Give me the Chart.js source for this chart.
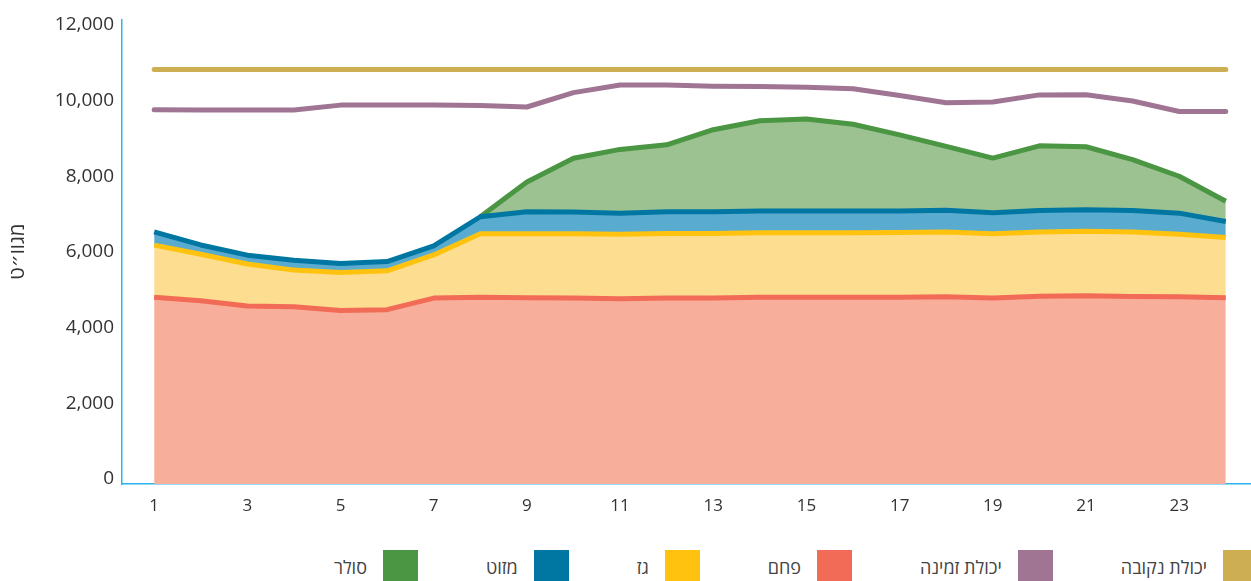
<!DOCTYPE html>
<html lang="he">
<head>
<meta charset="utf-8">
<script src="https://cdn.jsdelivr.net/npm/chart.js@4.4.1/dist/chart.umd.min.js"></script>
<style>
  html, body { margin: 0; padding: 0; background: #fff; }
  #wrap { position: relative; width: 1251px; height: 581px; overflow: hidden; }
  #wrap canvas { position: absolute; left: 0; top: 0; }
  #legend {
    position: absolute; top: 550px; right: -7px;
    display: flex; direction: rtl; align-items: center;
    font-family: "Open Sans", "DejaVu Sans", sans-serif; font-size: 18px; color: #444;
  }
  #legend .item { display: flex; align-items: center; margin-left: 68px; }
  #legend .item:last-child { margin-left: 0; }
  #legend .box { width: 35px; height: 34px; margin-left: 16px; }
</style>
</head>
<body>
<div id="wrap">
  <canvas id="chart" width="1251" height="540"></canvas>
  <div id="legend"></div>
</div>
<script>
// ── DATA ──
const hours = [1, 2, 3, 4, 5, 6, 7, 8, 9, 10, 11, 12, 13, 14, 15, 16, 17, 18, 19, 20, 21, 22, 23, 24];
const xTicks = [1, 3, 5, 7, 9, 11, 13, 15, 17, 19, 21, 23];
const yTicks = [0, 2000, 4000, 6000, 8000, 10000, 12000];

const ratedCapacity = [10820, 10820, 10820, 10820, 10820, 10820, 10820, 10820, 10820, 10820, 10820, 10820,
    10820, 10820, 10820, 10820, 10820, 10820, 10820, 10820, 10820, 10820, 10820, 10820];
const availCapacity = [9760, 9750, 9750, 9750, 9880, 9880, 9880, 9870, 9830, 10210, 10410, 10410,
    10380, 10370, 10355, 10310, 10135, 9945, 9960, 10150, 10155, 9990, 9710, 9710];
const coal = [4800, 4710, 4570, 4550, 4450, 4475, 4780, 4800, 4790, 4780, 4760, 4780,
    4780, 4800, 4800, 4800, 4800, 4815, 4780, 4830, 4840, 4820, 4815, 4790];
const gas = [1380, 1230, 1110, 970, 1010, 1025, 1140, 1680, 1690, 1700, 1705, 1710,
    1710, 1710, 1710, 1710, 1715, 1710, 1700, 1695, 1705, 1705, 1650, 1590];
const mazut = [350, 245, 235, 260, 235, 245, 240, 450, 580, 575, 560, 570,
    575, 570, 570, 570, 570, 575, 555, 570, 570, 570, 560, 425];
const solar = [0, 0, 0, 0, 0, 0, 0, 0, 790, 1420, 1685, 1770,
    2165, 2385, 2435, 2295, 2010, 1690, 1445, 1710, 1665, 1345, 975, 535];

const FONT = '"Open Sans", "DejaVu Sans", sans-serif';
const AXIS_BLUE = '#2BB5EC';

const pts = arr => hours.map((h, i) => ({ x: h, y: arr[i] }));

// ── SERIES ──
const series = [
    { label: 'יכולת נקובה', data: ratedCapacity, line: '#CDAE52', fill: false, stack: 'rated' },
    { label: 'יכולת זמינה', data: availCapacity, line: '#A07594', fill: false, stack: 'avail' },
    { label: 'פחם', data: coal, line: '#F26B56', area: '#F7AE9B', fill: 'start', stack: 'gen' },
    { label: 'גז', data: gas, line: '#FFC30F', area: '#FDDD8F', fill: '-1', stack: 'gen' },
    { label: 'מזוט', data: mazut, line: '#0077A2', area: '#5AABD0', fill: '-1', stack: 'gen' },
    { label: 'סולר', data: solar, line: '#4A9642', area: '#9CC292', fill: '-1', stack: 'gen' }
];

const datasets = series.map(s => ({
    label: s.label,
    data: pts(s.data),
    stack: s.stack,
    borderColor: s.line,
    backgroundColor: s.area || s.line,
    fill: s.fill,
    borderWidth: 5,
    borderCapStyle: s.fill ? 'butt' : 'round',
    borderJoinStyle: 'round',
    pointRadius: 0,
    tension: 0,
    // hide the solar line while it sits at zero under the mazut line
    segment: s.label === 'סולר' ? {
        borderColor: c => (c.p0.parsed.y === 0 && c.p1.parsed.y === 0) ? 'rgba(0,0,0,0)' : s.line
    } : undefined
}));

// ── CHART ──
const ctx = document.getElementById('chart').getContext('2d');
new Chart(ctx, {
    type: 'line',
    data: { datasets },
    options: {
        responsive: false,
        animation: false,
        layout: { padding: { top: 14, right: 1, left: 0, bottom: 0 } },
        plugins: {
            legend: { display: false },
            tooltip: { enabled: false }
        },
        scales: {
            x: {
                type: 'linear',
                min: 0.31,
                max: 24.52,
                grid: { display: false, drawTicks: false },
                border: { color: AXIS_BLUE, width: 1.5 },
                afterBuildTicks: axis => { axis.ticks = xTicks.map(v => ({ value: v })); },
                afterFit: axis => { axis.height = 56; },
                ticks: {
                    color: '#333',
                    font: { family: FONT, size: 17 },
                    padding: 12,
                    maxRotation: 0,
                    autoSkip: false
                }
            },
            y: {
                stacked: true,
                min: -132,
                max: 12145,
                grid: { display: false, drawTicks: false },
                border: { color: AXIS_BLUE, width: 1.5 },
                afterBuildTicks: axis => { axis.ticks = yTicks.map(v => ({ value: v })); },
                afterFit: axis => { axis.width = 122; },
                title: {
                    display: true,
                    text: 'מגוו״ט',
                    color: '#333',
                    font: { family: FONT, size: 20 },
                    padding: { top: 6, bottom: 0 }
                },
                ticks: {
                    color: '#333',
                    font: { family: FONT, size: 19 },
                    padding: 8,
                    callback: v => v.toLocaleString('en-US')
                }
            }
        }
    }
});

// ── LEGEND ──
const legendEl = document.getElementById('legend');
series.forEach(s => {
    const item = document.createElement('div');
    item.className = 'item';
    const box = document.createElement('span');
    box.className = 'box';
    box.style.background = s.line;
    const txt = document.createElement('span');
    txt.textContent = s.label;
    item.appendChild(box);
    item.appendChild(txt);
    legendEl.appendChild(item);
});
</script>
</body>
</html>
